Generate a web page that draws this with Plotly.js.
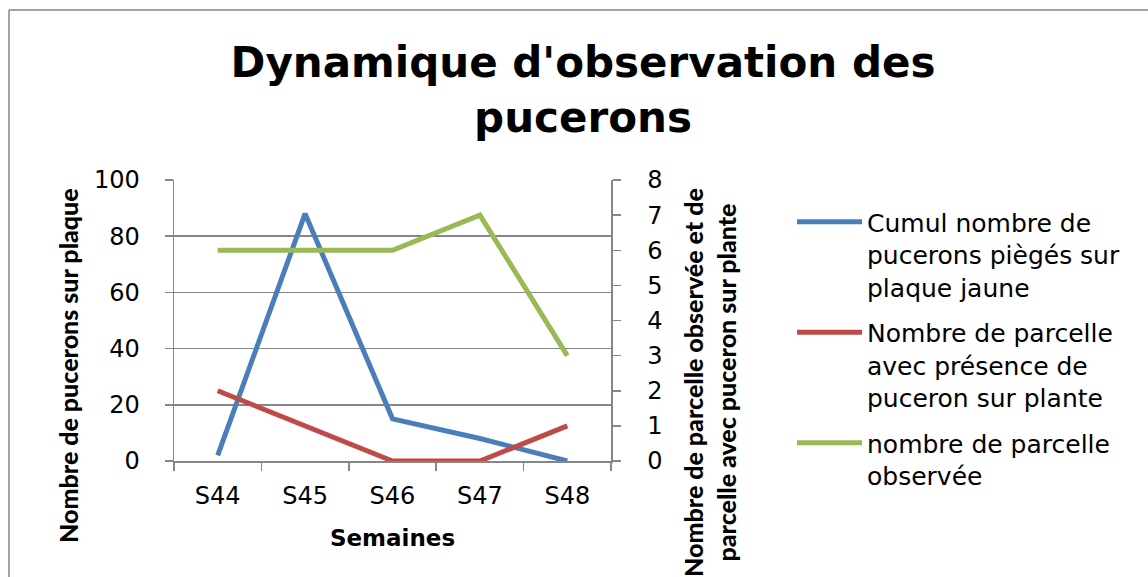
<!DOCTYPE html>
<html>
<head>
<meta charset="utf-8">
<script src="https://cdn.plot.ly/plotly-3.0.1.min.js"></script>
<style>
  html, body { margin: 0; padding: 0; background: #ffffff; }
  #chart { width: 1148px; height: 577px; }
</style>
</head>
<body>
<div id="chart"></div>
<script>
// ---- Data ----
const weeks = ["S44", "S45", "S46", "S47", "S48"];
const cumulPucerons = [2, 88, 15, 8, 0];          // left axis
const parcellesAvecPucerons = [2, 1, 0, 0, 1];    // right axis
const parcellesObservees = [6, 6, 6, 7, 3];       // right axis

const seriesNames = [
  "Cumul nombre de<br>pucerons piègés sur<br>plaque jaune",
  "Nombre de parcelle<br>avec présence de<br>puceron sur plante",
  "nombre de parcelle<br>observée"
];
const leftTicks = [0, 20, 40, 60, 80, 100];
const rightTicks = [0, 1, 2, 3, 4, 5, 6, 7, 8];

// ---- Layout geometry (pixels) ----
const W = 1148, H = 577;
const L = 174, R = 611, T = 180, B = 461;
const px2x = p => (p - L) / (R - L);
const px2y = p => (B - p) / (B - T);

const FONT = "DejaVu Sans, Verdana, sans-serif";
const NARROW = "Lato, Roboto, sans-serif";
const GRAY = "#868686";

const traces = [
  {
    x: weeks, y: cumulPucerons, name: seriesNames[0], type: "scatter", mode: "lines",
    line: { color: "#4A7EBB", width: 5 }, yaxis: "y", legendgroup: "a"
  },
  {
    x: weeks, y: parcellesAvecPucerons, name: seriesNames[1], type: "scatter", mode: "lines",
    line: { color: "#BE4B48", width: 5 }, yaxis: "y2", legendgroup: "b"
  },
  {
    x: weeks, y: parcellesObservees, name: seriesNames[2], type: "scatter", mode: "lines",
    line: { color: "#98B954", width: 5 }, yaxis: "y2", legendgroup: "c"
  }
];

const layout = {
  width: W, height: H,
  margin: { l: L, r: W - R, t: T, b: H - B, pad: 0 },
  paper_bgcolor: "#ffffff", plot_bgcolor: "#ffffff",
  font: { family: FONT, color: "#000000", size: 24 },
  title: {
    text: "Dynamique d'observation des<br>pucerons",
    font: { family: FONT, size: 42, weight: "bold", color: "#000000" },
    xref: "container", x: 583 / W, xanchor: "center",
    yref: "container", y: 1 - 77 / H, yanchor: "top"
  },
  xaxis: {
    type: "category",
    range: [-0.5, 4.5],
    tickson: "boundaries",
    ticks: "outside", ticklen: 8, tickwidth: 1.5, tickcolor: GRAY,
    showline: true, linecolor: GRAY, linewidth: 1.5,
    showgrid: false, zeroline: false,
    tickfont: { family: FONT, size: 24 },
    ticklabelstandoff: 13,
    title: {
      text: "Semaines",
      font: { family: FONT, size: 23, weight: "bold" },
      standoff: 20
    },
    fixedrange: true
  },
  yaxis: {
    range: [0, 100],
    tickvals: leftTicks,
    ticktext: leftTicks.map(String),
    ticks: "outside", ticklen: 8, tickwidth: 1.5, tickcolor: GRAY,
    showline: true, linecolor: GRAY, linewidth: 1.5,
    showgrid: true, gridcolor: GRAY, gridwidth: 1.5,
    zeroline: false,
    tickfont: { family: FONT, size: 24 },
    ticklabelstandoff: 20,
    fixedrange: true
  },
  yaxis2: {
    range: [0, 8],
    overlaying: "y", side: "right",
    tickvals: rightTicks,
    ticktext: rightTicks.map(String),
    ticks: "outside", ticklen: 8, tickwidth: 1.5, tickcolor: GRAY,
    showline: true, linecolor: GRAY, linewidth: 1.5,
    showgrid: false, zeroline: false,
    tickfont: { family: FONT, size: 24 },
    ticklabelstandoff: 22,
    fixedrange: true
  },
  showlegend: true,
  legend: {
    x: px2x(792), xanchor: "left",
    y: px2y(199), yanchor: "top",
    font: { family: FONT, size: 25, color: "#000000" },
    valign: "top",
    traceorder: "grouped",
    tracegroupgap: 10,
    itemwidth: 65,
    maxheight: 380,
    bgcolor: "rgba(0,0,0,0)",
    borderwidth: 0
  },
  annotations: [
    {
      text: "Nombre de pucerons sur plaque",
      xref: "paper", yref: "paper",
      x: px2x(68), y: px2y(366),
      xanchor: "center", yanchor: "middle",
      textangle: -90, showarrow: false,
      font: { family: NARROW, size: 25, weight: 900, color: "#000000" }
    },
    {
      text: "Nombre de parcelle observée et de<br>parcelle avec puceron sur plante",
      xref: "paper", yref: "paper",
      x: px2x(709), y: px2y(383),
      xanchor: "center", yanchor: "middle",
      textangle: -90, showarrow: false,
      font: { family: NARROW, size: 25, weight: 900, color: "#000000" }
    }
  ],
  shapes: [
    {
      type: "line", xref: "paper", yref: "paper", layer: "below",
      x0: px2x(9), y0: px2y(10), x1: px2x(9), y1: px2y(H + 5),
      line: { color: GRAY, width: 1.5 }
    },
    {
      type: "line", xref: "paper", yref: "paper", layer: "below",
      x0: px2x(9), y0: px2y(10), x1: px2x(W + 5), y1: px2y(10),
      line: { color: GRAY, width: 1.5 }
    }
  ]
};

Plotly.newPlot("chart", traces, layout, { displayModeBar: false, staticPlot: true });
</script>
</body>
</html>
